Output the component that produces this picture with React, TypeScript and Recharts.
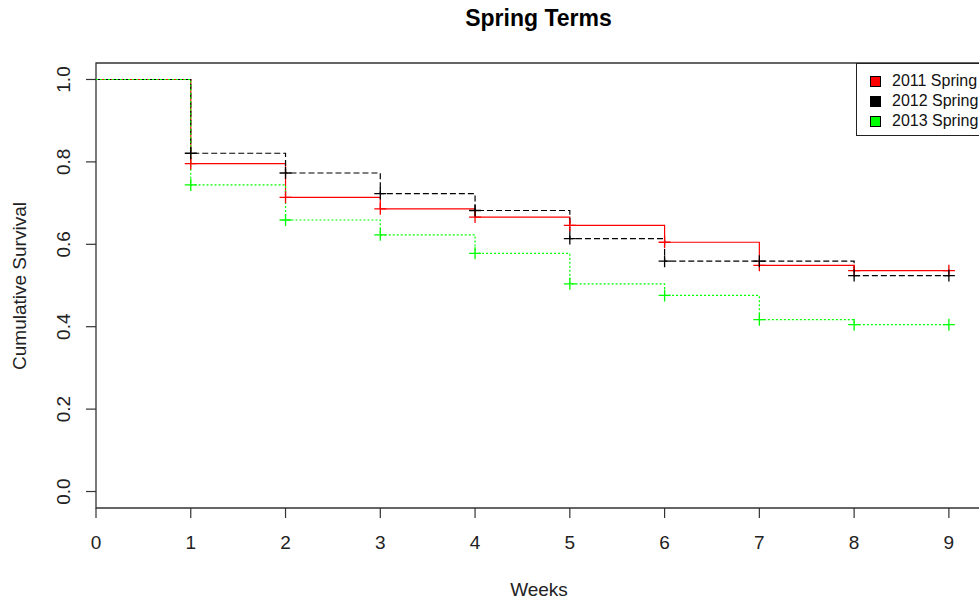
import { LineChart, Line, XAxis, YAxis, ReferenceArea, Legend, Label } from "recharts"

const FONT = '"Liberation Sans", Arial, Helvetica, sans-serif'

// survival estimate at the start of each week
const weeks = [0, 1, 2, 3, 4, 5, 6, 7, 8, 9]
const spring2011 = [1, 0.796, 0.714, 0.686, 0.666, 0.646, 0.605, 0.549, 0.536, 0.536]
const spring2012 = [1, 0.821, 0.773, 0.723, 0.682, 0.614, 0.559, 0.559, 0.524, 0.524]
const spring2013 = [1, 0.744, 0.659, 0.623, 0.578, 0.504, 0.476, 0.417, 0.405, 0.405]

const xTicks = [0, 1, 2, 3, 4, 5, 6, 7, 8, 9]
const yTicks = [0, 0.2, 0.4, 0.6, 0.8, 1]

const data = weeks.map((w, i) => ({
  week: w,
  s2011: spring2011[i],
  s2012: spring2012[i],
  s2013: spring2013[i],
}))

// censoring marks drawn as "+"
function Cross(props: any) {
  const { cx, cy, index, stroke } = props
  if (index === 0 || cx == null || cy == null) return <g key={`c-${index}`} />
  return (
    <path
      key={`c-${index}`}
      d={`M${cx - 6},${cy}H${cx + 6}M${cx},${cy - 6}V${cy + 6}`}
      stroke={stroke}
      strokeWidth={1.3}
      strokeDasharray="none"
      fill="none"
    />
  )
}

function YTick({ x, y, payload }: any) {
  return (
    <text
      x={x}
      y={y}
      transform={`rotate(-90 ${x} ${y})`}
      textAnchor="middle"
      fontSize={19}
      fontFamily={FONT}
      fill="#222"
    >
      {Number(payload.value).toFixed(1)}
    </text>
  )
}

function LegendBox({ payload }: any) {
  return (
    <div
      style={{
        border: "1px solid #222",
        padding: "7px 30px 4px 13px",
        background: "#fff",
        fontFamily: FONT,
        fontSize: 16,
        lineHeight: "20px",
        color: "#111",
        whiteSpace: "nowrap",
      }}
    >
      {(payload || []).map((p: any) => (
        <div key={p.value} style={{ display: "flex", alignItems: "center" }}>
          <span
            style={{
              display: "inline-block",
              width: 9,
              height: 9,
              background: p.color,
              border: "1px solid #000",
              marginRight: 11,
            }}
          />
          {p.value}
        </div>
      ))}
    </div>
  )
}

export default function App() {
  return (
    <div
      style={{
        position: "absolute",
        left: 0,
        top: 0,
        width: 979,
        height: 602,
        overflow: "hidden",
        background: "#fff",
      }}
    >
      <div
        style={{
          position: "absolute",
          left: 0,
          top: 4,
          width: 1077,
          textAlign: "center",
          fontFamily: FONT,
          fontWeight: "bold",
          fontSize: 23,
          lineHeight: "28px",
          color: "#000",
        }}
      >
        Spring Terms
      </div>
      <LineChart width={1000} height={602} data={data} margin={{ top: 63, right: 17, bottom: 0, left: 0 }}>
        <XAxis
          dataKey="week"
          type="number"
          domain={[0, 9.36]}
          allowDataOverflow
          ticks={xTicks}
          height={94}
          axisLine={false}
          tickSize={10}
          tickMargin={18}
          tickLine={{ stroke: "#333", strokeWidth: 1.2 }}
          tick={{ fontSize: 19, fontFamily: FONT, fill: "#222" }}
        >
          <Label
            content={() => (
              <text x={539} y={596} textAnchor="middle" fontSize={19} fontFamily={FONT} fill="#222">
                Weeks
              </text>
            )}
          />
        </XAxis>
        <YAxis
          type="number"
          domain={[-0.04, 1.04]}
          allowDataOverflow
          ticks={yTicks}
          width={96}
          axisLine={false}
          tickSize={10}
          tickMargin={16}
          tickLine={{ stroke: "#333", strokeWidth: 1.2 }}
          tick={<YTick />}
        >
          <Label
            content={() => (
              <text
                x={26}
                y={286}
                transform="rotate(-90 26 286)"
                textAnchor="middle"
                fontSize={19}
                fontFamily={FONT}
                fill="#222"
              >
                Cumulative Survival
              </text>
            )}
          />
        </YAxis>
        <ReferenceArea
          x1={0}
          x2={9.36}
          y1={-0.04}
          y2={1.04}
          fill="none"
          fillOpacity={0}
          stroke="#333"
          strokeWidth={1.3}
          ifOverflow="visible"
        />
        <Line
          name="2011 Spring"
          dataKey="s2011"
          type="stepAfter"
          stroke="#ff0000"
          strokeWidth={1.2}
          dot={<Cross />}
          activeDot={false}
          isAnimationActive={false}
        />
        <Line
          name="2012 Spring"
          dataKey="s2012"
          type="stepAfter"
          stroke="#000000"
          strokeWidth={1.2}
          strokeDasharray="6 3"
          dot={<Cross />}
          activeDot={false}
          isAnimationActive={false}
        />
        <Line
          name="2013 Spring"
          dataKey="s2013"
          type="stepAfter"
          stroke="#00ff00"
          strokeWidth={1.2}
          strokeDasharray="2 2"
          dot={<Cross />}
          activeDot={false}
          isAnimationActive={false}
        />
        <Legend
          layout="vertical"
          align="center"
          verticalAlign="middle"
          wrapperStyle={{ position: "absolute", left: 856, top: 63, width: "auto", height: "auto" }}
          content={<LegendBox />}
        />
      </LineChart>
    </div>
  )
}
